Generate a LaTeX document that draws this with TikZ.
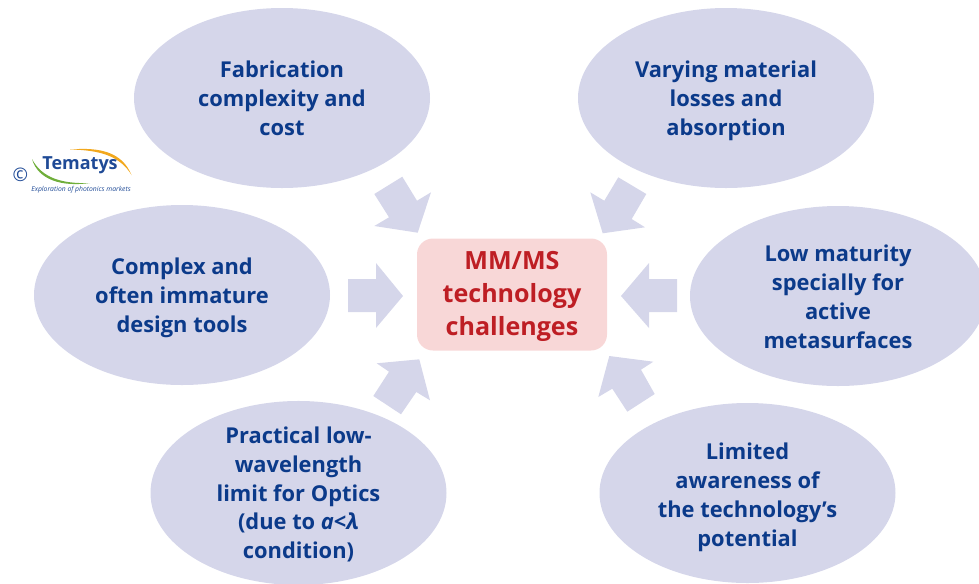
\documentclass[tikz,border=0pt]{standalone}
\usepackage{fontspec}
\setmainfont{Open Sans}[BoldFont=* Bold,ItalicFont=* Italic,BoldItalicFont=* Bold Italic]
\usetikzlibrary{shapes.geometric}
\definecolor{lav}{HTML}{D5D6EA}
\definecolor{navy}{HTML}{0B3A8A}
\definecolor{boxpink}{HTML}{F8D7D7}
\definecolor{boxred}{HTML}{BE1E24}
\definecolor{logoblue}{HTML}{1F4A96}
\definecolor{logogreen}{HTML}{6FAE3A}
\definecolor{logoorange}{HTML}{F2A81D}
\newcommand{\topline}[2][12pt]{\smash{#2}\rule{0pt}{#1}}
\newcommand{\botline}[1]{\smash{#1}}
\tikzset{
  bubble/.style={ellipse,fill=lav,minimum width=222pt,minimum height=135pt,inner sep=0pt,align=center,text=navy,
    font=\fontsize{16.4pt}{21.75pt}\selectfont\bfseries},
  centrebox/.style={rectangle,rounded corners=12pt,fill=boxpink,minimum width=142.5pt,minimum height=84pt,inner sep=0pt,align=center,text=boxred,
    font=\fontsize{18.8pt}{24.75pt}\selectfont\bfseries},
  blockarrow/.style={fill=lav,draw=none},
}
\begin{document}
\begin{tikzpicture}[x=0.75pt,y=-0.75pt]
\useasboundingbox (0,0) rectangle (979,583);
\clip (0,0) rectangle (979,583);
\node[bubble] (fab) at (282,98) {\topline{Fabrication}\\complexity and\\\botline{cost}};
\node[bubble] (var) at (726,98) {\topline{Varying material}\\losses and\\\botline{absorption}};
\node[bubble] (des) at (182,295) {\topline{Complex and}\\often immature\\\botline{design tools}};
\node[bubble] (low) at (838,296) {\topline[13.5pt]{Low maturity}\\specially for\\active\\\botline{metasurfaces}};
\node[bubble,font=\fontsize{16.4pt}{21.4pt}\selectfont\bfseries] (pra) at (298.5,493) {\topline{Practical low-}\\wavelength\\limit for Optics\\(due to \textit{a}<\textit{λ}\\\botline{condition)}};
\node[bubble] (lim) at (747.5,493) {\topline[15pt]{Limited}\\awareness of\\the technology’s\\\botline{potential}};
\node[centrebox] (mm) at (512,294.5) {\topline{MM/MS}\\technology\\\botline{challenges}};
% block arrows
\fill[blockarrow] (374.3,194)--(402.3,176.7)--(417,200.7)--(431,192.3)--(417.7,232.7)--(374.3,226)--(389,217.3)--cycle;
\fill[blockarrow] (646.3,194)--(618.3,177.3)--(604.3,200.7)--(590.3,192.3)--(602.7,233.3)--(645,227.3)--(631.7,219)--cycle;
\fill[blockarrow] (348,279)--(376,279)--(376,263)--(403,296)--(376,328)--(376,312)--(348,312)--cycle;
\fill[blockarrow] (677,279)--(649,279)--(649,263)--(621,296)--(649,328)--(649,312)--(677,312)--cycle;
\fill[blockarrow] (376.7,363.3)--(419.3,359.3)--(430,400.3)--(416.3,392)--(401,414.3)--(373.3,396)--(389,371.7)--cycle;
\fill[blockarrow] (609.3,356)--(653.3,361.7)--(641,369.7)--(654.7,394)--(627.3,411.7)--(612.3,388.7)--(598.3,397)--cycle;
% logo
\fill[logogreen] (32,159) .. controls (42,178) and (62,184) .. (90,183) .. controls (62,187) and (38,180) .. cycle;
\fill[logoorange] (70,149.5) .. controls (100,147) and (122,152) .. (131.5,175) .. controls (120,156) and (100,150) .. cycle;
\node[inner sep=0pt,text=logoblue,font=\fontsize{13.5pt}{14pt}\selectfont\bfseries] (tem) at (80,165) {Tematys};
\node[inner sep=0pt,text=logoblue,font=\fontsize{14pt}{15pt}\selectfont] (cop) at (20.5,174.5) {©};
\node[inner sep=0pt,text=logoblue,font=\fontsize{5.1pt}{6pt}\selectfont\itshape] (tag) at (81,190) {Exploration of photonics markets};
\end{tikzpicture}
\end{document}
